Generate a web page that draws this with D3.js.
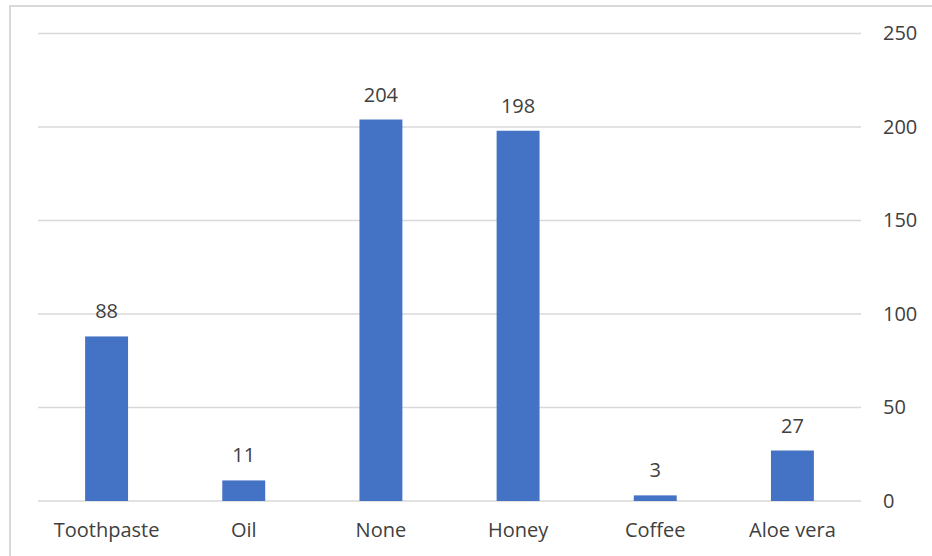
<!DOCTYPE html>
<html>
<head>
<meta charset="utf-8">
<script src="https://cdn.jsdelivr.net/npm/d3@7"></script>
<style>
  body { margin: 0; background: #fff; }
  svg { display: block; font-family: "Open Sans", Lato, sans-serif; }
</style>
</head>
<body>
<svg id="chart" width="932" height="556"></svg>
<script>
const categories = ['Toothpaste', 'Oil', 'None', 'Honey', 'Coffee', 'Aloe vera'];
const counts = [88, 11, 204, 198, 3, 27];
const yTicks = [0, 50, 100, 150, 200, 250];

const svg = d3.select('#chart');
const plotLeft = 38, plotRight = 861, plotTop = 33.5, plotBottom = 501;
const font = '"Open Sans", Lato, sans-serif';
const fontSize = '20px';

// outer frame, cut off on the right and bottom like the screenshot
svg.append('rect')
    .attr('x', 10).attr('y', 6)
    .attr('width', 940).attr('height', 560)
    .attr('fill', 'none')
    .attr('stroke', '#d9d9d9')
    .attr('stroke-width', 2);

const x = d3.scaleBand()
    .domain(categories)
    .range([plotLeft, plotRight])
    .paddingInner(0.687)
    .paddingOuter(0.3435);

const y = d3.scaleLinear()
    .domain([0, 250])
    .range([plotBottom, plotTop]);

// gridlines
svg.append('g')
    .selectAll('line')
    .data(yTicks)
    .join('line')
    .attr('x1', plotLeft).attr('x2', plotRight)
    .attr('y1', d => y(d)).attr('y2', d => y(d))
    .attr('stroke', '#d9d9d9')
    .attr('stroke-width', 1.5);

// right axis labels
const yAxis = svg.append('g')
    .attr('transform', `translate(${plotRight},0)`)
    .call(d3.axisRight(y).tickValues(yTicks).tickSize(0).tickPadding(22));
yAxis.select('.domain').remove();
yAxis.selectAll('text')
    .attr('fill', '#404040')
    .style('font-size', fontSize)
    .style('font-family', font);

// bars
const data = categories.map((c, i) => ({ name: c, value: counts[i] }));

svg.append('g')
    .selectAll('rect')
    .data(data)
    .join('rect')
    .attr('x', d => x(d.name))
    .attr('y', d => y(d.value))
    .attr('width', x.bandwidth())
    .attr('height', d => y(0) - y(d.value))
    .attr('fill', '#4472c4');

// value labels
svg.append('g')
    .selectAll('text')
    .data(data)
    .join('text')
    .attr('x', d => x(d.name) + x.bandwidth() / 2)
    .attr('y', d => y(d.value) - 18)
    .attr('text-anchor', 'middle')
    .attr('fill', '#404040')
    .style('font-size', fontSize)
    .text(d => d.value);

// category labels
const xAxis = svg.append('g')
    .attr('transform', `translate(0,${plotBottom})`)
    .call(d3.axisBottom(x).tickSize(0).tickPadding(22));
xAxis.select('.domain').remove();
xAxis.selectAll('text')
    .attr('fill', '#404040')
    .style('font-size', fontSize)
    .style('font-family', font);
</script>
</body>
</html>
